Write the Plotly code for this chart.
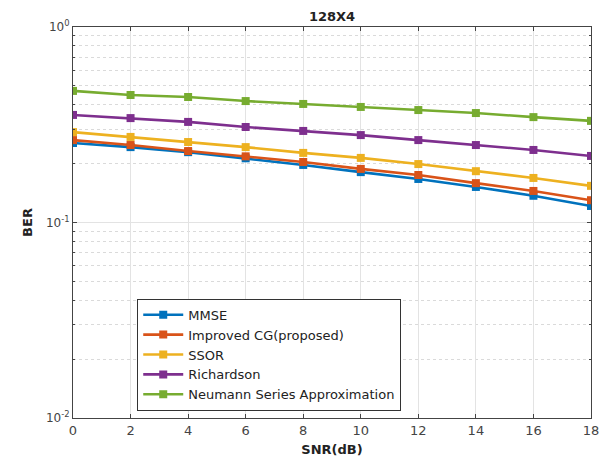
import plotly.graph_objects as go

snr = [0, 2, 4, 6, 8, 10, 12, 14, 16, 18]
mmse = [0.255, 0.243, 0.229, 0.213, 0.197, 0.181, 0.167, 0.152, 0.137, 0.1215]
improved_cg = [0.264, 0.249, 0.232, 0.218, 0.204, 0.188, 0.175, 0.159, 0.145, 0.130]
ssor = [0.290, 0.274, 0.258, 0.243, 0.227, 0.214, 0.199, 0.183, 0.169, 0.154]
richardson = [0.355, 0.342, 0.327, 0.308, 0.294, 0.280, 0.264, 0.249, 0.235, 0.219]
neumann = [0.471, 0.449, 0.4385, 0.418, 0.404, 0.390, 0.376, 0.363, 0.346, 0.331]

names = ["MMSE", "Improved CG(proposed)", "SSOR", "Richardson", "Neumann Series Approximation"]
series = [mmse, improved_cg, ssor, richardson, neumann]
colors = ["#0072BD", "#D95319", "#EDB120", "#7E2F8E", "#77AC30"]

fig = go.Figure()
for name, vals, c in zip(names, series, colors):
    fig.add_trace(go.Scatter(x=snr, y=vals, name=name, mode="lines+markers",
                             line=dict(color=c, width=2.6),
                             marker=dict(symbol="square", size=8, color=c)))

minor_vals = [m * 10 ** e for e in (-2, -1) for m in range(2, 10)]
font = "DejaVu Sans, Verdana, sans-serif"

fig.update_layout(
    width=600, height=457,
    margin=dict(l=73, r=9, t=27, b=39),
    paper_bgcolor="white", plot_bgcolor="white",
    title=dict(text="<b>128X4</b>", xref="paper", x=0.5, xanchor="center",
               yref="container", y=0.963, yanchor="middle",
               font=dict(family=font, size=13, color="#222")),
    font=dict(family=font, size=13, color="#444"),
    xaxis=dict(range=[0, 18], tickvals=snr, showgrid=True, gridcolor="#e3e3e3", gridwidth=1,
               zeroline=False, showline=True, linecolor="#444", linewidth=1, mirror="ticks",
               ticks="inside", ticklen=4, tickcolor="#444", automargin=False,
               title=dict(text="<b>SNR(dB)</b>", font=dict(size=13, color="#222"), standoff=9)),
    yaxis=dict(type="log", range=[-2, 0], tickvals=[0.01, 0.1, 1],
               ticktext=["10<sup>-2</sup>", "10<sup>-1</sup>", "10<sup>0</sup>"],
               showgrid=True, gridcolor="#e3e3e3", gridwidth=1,
               zeroline=False, showline=True, linecolor="#444", linewidth=1, mirror="ticks",
               ticks="inside", ticklen=4, tickcolor="#444", automargin=False,
               tickfont=dict(size=12),
               minor=dict(tickvals=minor_vals, showgrid=True, gridcolor="#dadada",
                          griddash="dot", ticks="inside", ticklen=2, tickcolor="#444"),
               title=dict(text="<b>BER</b>", font=dict(size=13, color="#222"), standoff=10)),
    legend=dict(x=0.124, y=0.305, xanchor="left", yanchor="top",
                bgcolor="white", bordercolor="#333", borderwidth=1,
                font=dict(family=font, size=13, color="#222"),
                tracegroupgap=0, itemwidth=40),
    showlegend=True,
)

fig.write_html("out.html")
